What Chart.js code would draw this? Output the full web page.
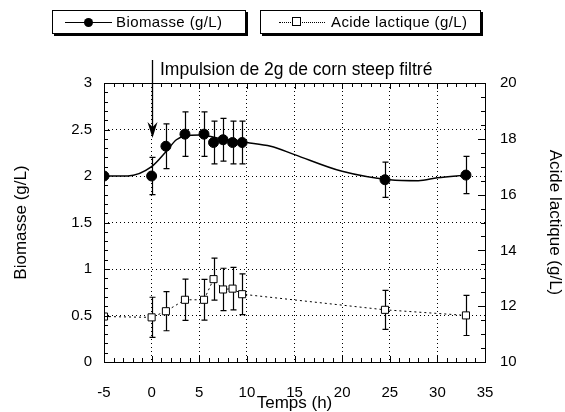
<!DOCTYPE html>
<html>
<head>
<meta charset="utf-8">
<script src="https://cdn.jsdelivr.net/npm/chart.js@4"></script>
<style>
  html, body { margin:0; padding:0; background:#fff; }
  #wrap { position:relative; width:565px; height:412px; font-family:'Liberation Sans', Arial, Helvetica, sans-serif; color:#000; }
  canvas { position:absolute; left:0; top:0; }
  .lg { position:absolute; top:10px; height:22px; border:1px solid #000; box-shadow:2px 2px 0 #000; background:#fff; font-size:15px; letter-spacing:0.4px; }
  .lg span { position:absolute; top:2px; white-space:nowrap; }
  .ln { position:absolute; top:11px; border-top:1px solid #000; }
  .dot { position:absolute; width:9px; height:9px; border-radius:50%; background:#000; top:7px; }
  .sq { position:absolute; width:7px; height:7px; border:1px solid #000; background:#fff; top:6px; }
  #note { position:absolute; left:160px; top:59px; font-size:17.5px; white-space:nowrap; }
</style>
</head>
<body>
<div id="wrap">
  <canvas id="c" width="565" height="412"></canvas>
  <div class="lg" style="left:52px;width:192px;">
    <div class="ln" style="left:12px;width:47px;"></div>
    <div class="dot" style="left:31px;"></div>
    <span style="left:63px;">Biomasse (g/L)</span>
  </div>
  <div class="lg" style="left:260px;width:219px;">
    <div class="ln" style="left:18px;width:46px;border-top:1px dotted #000;"></div>
    <div class="sq" style="left:31px;"></div>
    <span style="left:70px;">Acide lactique (g/L)</span>
  </div>
  <div id="note">Impulsion de 2g de corn steep filtré</div>
</div>
<script>
// données
const timeBio = [-5, 0, 1.5, 3.5, 5.5, 6.5, 7.5, 8.5, 9.5, 24.5, 33];
const biomasse = [2.0, 2.0, 2.32, 2.45, 2.45, 2.36, 2.39, 2.36, 2.36, 1.96, 2.01];
const biomasseErr = [0, 0.2, 0.24, 0.24, 0.24, 0.23, 0.23, 0.23, 0.23, 0.19, 0.2];

// courbe lissée (relevée à la main sur la figure)
const fitTime = [-5, -2.5, 0, 1.5, 2.6, 3.6, 5, 7.8, 10, 12.5, 15, 20, 25, 28, 30, 33];
const fitBio = [2.0, 2.0, 2.1, 2.26, 2.39, 2.43, 2.44, 2.39, 2.36, 2.32, 2.23, 2.05, 1.96, 1.95, 1.98, 2.01];

const timeLac = [-5, 0, 1.5, 3.5, 5.5, 6.5, 7.5, 8.5, 9.5, 24.5, 33];
const lactique = [11.63, 11.6, 11.82, 12.23, 12.23, 12.97, 12.6, 12.63, 12.43, 11.87, 11.67];
const lactiqueErr = [0, 0.72, 0.7, 0.74, 0.73, 0.75, 0.76, 0.76, 0.73, 0.7, 0.72];

const xTicks = [-5, 0, 5, 10, 15, 20, 25, 30, 35];
const yTicks = [0, 0.5, 1, 1.5, 2, 2.5, 3];
const y2Ticks = [10, 12, 14, 16, 18, 20];

const FAMILY = "'Liberation Sans', Arial, Helvetica, sans-serif";
const TICK_FONT = { family: FAMILY, size: 15 };
const TITLE_FONT = { family: FAMILY, size: 17 };

const pts = (xs, ys) => xs.map((x, i) => ({ x, y: ys[i] }));

const errorBars = {
  id: 'errorBars',
  beforeDatasetsDraw(chart) {
    const ctx = chart.ctx;
    chart.data.datasets.forEach(ds => {
      if (!ds.errors) return;
      const ys = chart.scales[ds.yAxisID];
      const xs = chart.scales.x;
      ctx.save();
      ctx.strokeStyle = '#000';
      ctx.lineWidth = 1.2;
      ds.data.forEach((p, i) => {
        const e = ds.errors[i];
        if (!e) return;
        const px = Math.round(xs.getPixelForValue(p.x)) + 0.5;
        const top = ys.getPixelForValue(p.y + e);
        const bot = ys.getPixelForValue(p.y - e);
        ctx.beginPath();
        ctx.moveTo(px, top); ctx.lineTo(px, bot);
        ctx.moveTo(px - 3, top); ctx.lineTo(px + 3, top);
        ctx.moveTo(px - 3, bot); ctx.lineTo(px + 3, bot);
        ctx.stroke();
      });
      ctx.restore();
    });
  }
};

const frameTicks = {
  id: 'frameTicks',
  afterDraw(chart) {
    const ctx = chart.ctx;
    const a = chart.chartArea;
    const x = chart.scales.x, y = chart.scales.y, y2 = chart.scales.y2;
    ctx.save();
    ctx.strokeStyle = '#000';
    ctx.lineWidth = 1;
    ctx.strokeRect(Math.round(a.left) + 0.5, Math.round(a.top) + 0.5, Math.round(a.right - a.left), Math.round(a.bottom - a.top));
    ctx.beginPath();
    for (let v = -5; v <= 35; v++) {
      const px = Math.round(x.getPixelForValue(v)) + 0.5;
      const len = v % 5 === 0 ? 6 : 4;
      ctx.moveTo(px, a.bottom); ctx.lineTo(px, a.bottom - len);
      ctx.moveTo(px, a.top); ctx.lineTo(px, a.top + len);
    }
    for (let k = 0; k <= 30; k++) {
      const py = Math.round(y.getPixelForValue(k / 10)) + 0.5;
      const len = k % 5 === 0 ? 6 : 4;
      ctx.moveTo(a.left, py); ctx.lineTo(a.left + len, py);
    }
    for (let k = 20; k <= 40; k++) {
      const py = Math.round(y2.getPixelForValue(k / 2)) + 0.5;
      const len = k % 4 === 0 ? 7 : 4;
      ctx.moveTo(a.right, py); ctx.lineTo(a.right - len, py);
    }
    ctx.stroke();

    // flèche de l'impulsion à t = 0
    const ax = Math.round(x.getPixelForValue(0)) + 0.5;
    ctx.beginPath();
    ctx.lineWidth = 1.3;
    ctx.moveTo(ax, 60); ctx.lineTo(ax, 134);
    ctx.stroke();
    ctx.beginPath();
    ctx.moveTo(ax, 138); ctx.lineTo(ax - 5, 122); ctx.lineTo(ax, 127); ctx.lineTo(ax + 5, 122);
    ctx.closePath();
    ctx.fillStyle = '#000';
    ctx.fill();
    ctx.restore();
  }
};

new Chart(document.getElementById('c'), {
  type: 'scatter',
  data: {
    datasets: [
      {
        label: 'fit',
        data: pts(fitTime, fitBio),
        yAxisID: 'y',
        showLine: true,
        borderColor: '#000',
        borderWidth: 1.5,
        pointRadius: 0,
        cubicInterpolationMode: 'monotone'
      },
      {
        label: 'Biomasse (g/L)',
        data: pts(timeBio, biomasse),
        errors: biomasseErr,
        yAxisID: 'y',
        showLine: false,
        pointRadius: 5,
        pointBackgroundColor: '#000',
        pointBorderColor: '#000'
      },
      {
        label: 'Acide lactique (g/L)',
        data: pts(timeLac, lactique),
        errors: lactiqueErr,
        yAxisID: 'y2',
        showLine: true,
        borderColor: '#000',
        borderWidth: 1,
        borderDash: [2, 3],
        pointStyle: 'rect',
        pointRadius: 5,
        pointBorderWidth: 1,
        pointBackgroundColor: '#fff',
        pointBorderColor: '#000'
      }
    ]
  },
  options: {
    responsive: false,
    animation: false,
    layout: { padding: { top: 83, left: 0, right: 0, bottom: 0 } },
    plugins: { legend: { display: false }, tooltip: { enabled: false } },
    scales: {
      x: {
        type: 'linear',
        min: -5, max: 35,
        afterBuildTicks: s => { s.ticks = xTicks.map(v => ({ value: v })); },
        afterFit: s => { s.height = 50; },
        grid: { color: '#000', lineWidth: 1, drawTicks: false },
        border: { display: false, dash: [1, 3] },
        ticks: { color: '#000', font: TICK_FONT, padding: 22, maxRotation: 0, callback: v => String(v) },
        title: { display: true, text: 'Temps (h)', color: '#000', font: { family: FAMILY, size: 17, lineHeight: 1 }, padding: 0 }
      },
      y: {
        position: 'left',
        min: 0, max: 3,
        afterBuildTicks: s => { s.ticks = yTicks.map(v => ({ value: v })); },
        afterFit: s => { s.width = 104; },
        grid: { color: '#000', lineWidth: 1, drawTicks: false },
        border: { display: false, dash: [1, 3] },
        ticks: { color: '#000', font: TICK_FONT, padding: 12, callback: v => String(v) },
        title: { display: true, text: 'Biomasse (g/L)', color: '#000', font: TITLE_FONT, padding: { top: 11, bottom: 0 } }
      },
      y2: {
        position: 'right',
        min: 10, max: 20,
        afterBuildTicks: s => { s.ticks = y2Ticks.map(v => ({ value: v })); },
        afterFit: s => { s.width = 80; },
        grid: { display: false, drawTicks: false },
        border: { display: false },
        ticks: { color: '#000', font: TICK_FONT, padding: 15, callback: v => String(v) },
        title: { display: true, text: 'Acide lactique (g/L)', color: '#000', font: TITLE_FONT, padding: { top: 0, bottom: 0 } }
      }
    }
  },
  plugins: [errorBars, frameTicks]
});
</script>
</body>
</html>
